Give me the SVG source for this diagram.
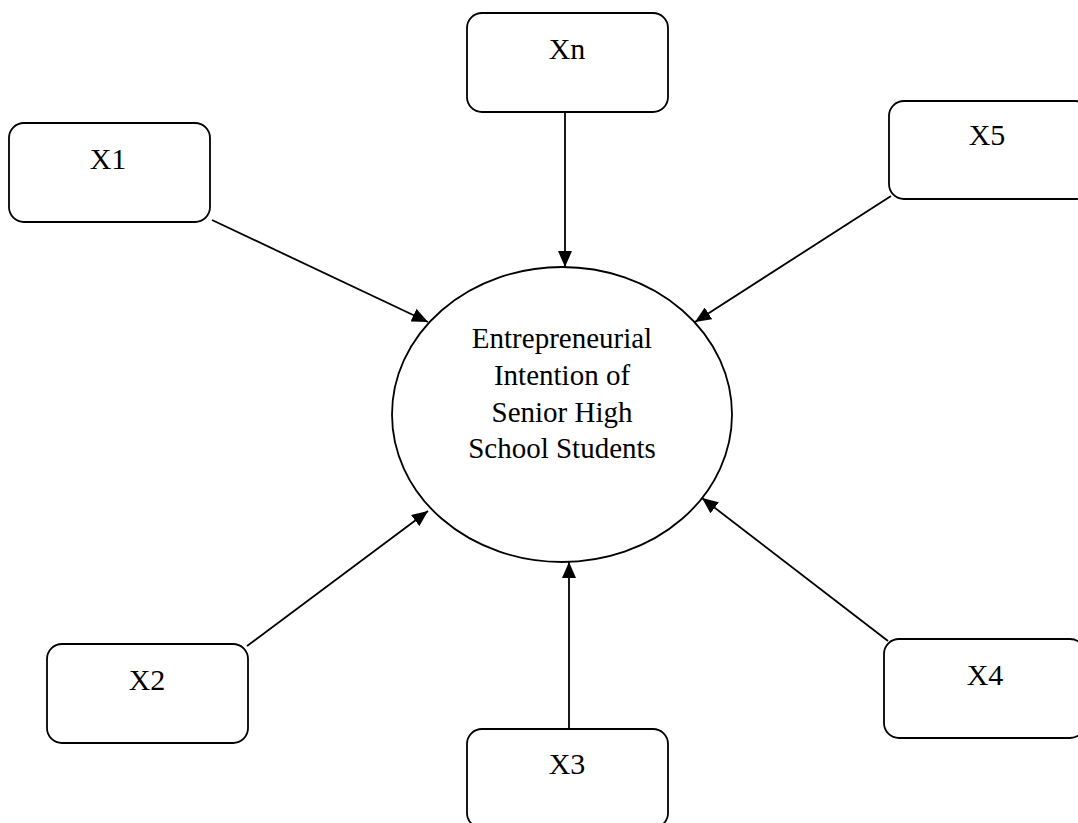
<svg xmlns="http://www.w3.org/2000/svg" width="1078" height="823" viewBox="0 0 1078 823">
<defs>
<style>
.box{fill:#fff;stroke:#000;stroke-width:1.8}
.lbl{font-family:"Liberation Serif","Times New Roman",serif;font-size:30px;fill:#000;text-anchor:middle}
.ctr{font-family:"Liberation Serif","Times New Roman",serif;font-size:29px;fill:#000;text-anchor:middle}
.con{stroke:#000;stroke-width:1.8;fill:none;marker-end:url(#ah)}
</style>
<marker id="ah" viewBox="0 0 16 14" refX="16" refY="7" markerWidth="16" markerHeight="14" markerUnits="userSpaceOnUse" orient="auto">
<path d="M0,0 L16,7 L0,14 z" fill="#000"/>
</marker>
</defs>
<rect width="1078" height="823" fill="#fff"/>
<g id="connectors">
<line class="con" x1="212" y1="220" x2="428" y2="322"/>
<line class="con" x1="565" y1="112" x2="565" y2="267"/>
<line class="con" x1="891" y1="196" x2="695" y2="322"/>
<line class="con" x1="247" y1="646" x2="428" y2="511"/>
<line class="con" x1="569" y1="729" x2="569" y2="562"/>
<line class="con" x1="888" y1="641" x2="702" y2="498"/>
</g>
<g id="center">
<ellipse cx="562" cy="414.5" rx="170" ry="147.5" fill="#fff" stroke="#000" stroke-width="1.8"/>
<text class="ctr" x="562" y="348">Entrepreneurial</text>
<text class="ctr" x="562" y="385">Intention of</text>
<text class="ctr" x="562" y="422">Senior High</text>
<text class="ctr" x="562" y="458">School Students</text>
</g>
<g id="x1"><rect class="box" x="9" y="123" width="201" height="99" rx="15"/><text class="lbl" x="108" y="169">X1</text></g>
<g id="xn"><rect class="box" x="467" y="13" width="201" height="99" rx="15"/><text class="lbl" x="567" y="59">Xn</text></g>
<g id="x5"><rect class="box" x="889" y="101" width="201" height="98" rx="15"/><text class="lbl" x="987" y="145">X5</text></g>
<g id="x2"><rect class="box" x="47" y="644" width="201" height="99" rx="15"/><text class="lbl" x="147" y="690">X2</text></g>
<g id="x3"><rect class="box" x="467" y="729" width="201" height="99" rx="15"/><text class="lbl" x="567" y="774">X3</text></g>
<g id="x4"><rect class="box" x="884" y="639" width="201" height="99" rx="15"/><text class="lbl" x="985" y="685">X4</text></g>
</svg>
